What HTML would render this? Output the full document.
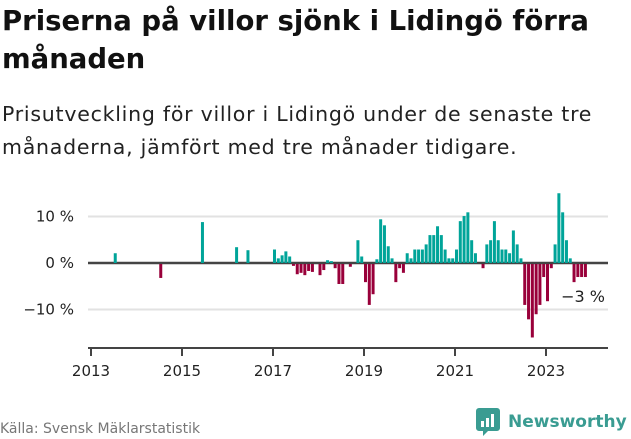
<!DOCTYPE html>
<html><head><meta charset="utf-8"><style>
body{margin:0;width:631px;height:439px;background:#fff;font-family:"DejaVu Sans","Liberation Sans",sans-serif;overflow:hidden;position:relative;color:#111}
#title{position:absolute;left:2px;top:2px;font-size:27.5px;font-weight:bold;line-height:38px;margin:0;width:630px}
#sub{position:absolute;left:2px;top:98px;font-size:20.5px;letter-spacing:0.75px;line-height:33px;color:#222;width:630px}
#src{position:absolute;left:0;top:421px;font-size:14px;color:#777}
#logo{position:absolute;left:476px;top:408px;display:flex;align-items:center}
#logo span{font-size:17px;font-weight:bold;color:#3a9c92;margin-left:8px}
</style></head><body>
<h1 id="title">Priserna på villor sjönk i Lidingö förra månaden</h1>
<div id="sub">Prisutveckling för villor i Lidingö under de senaste tre månaderna, jämfört med tre månader tidigare.</div>
<svg id="chart" width="631" height="439" style="position:absolute;left:0;top:0"></svg>
<div id="src">Källa: Svensk Mäklarstatistik</div>
<div id="logo">
<svg width="24" height="28" viewBox="0 0 24 28"><path d="M3 0h18a3 3 0 0 1 3 3v17a3 3 0 0 1-3 3H12l-5 5v-5H3a3 3 0 0 1-3-3V3a3 3 0 0 1 3-3z" fill="#3a9c92"/><rect x="5" y="13" width="3" height="6" fill="#fff"/><rect x="10" y="10" width="3" height="9" fill="#fff"/><rect x="15" y="6" width="3" height="13" fill="#fff"/></svg>
<span>Newsworthy</span></div>
<script>
const startYear = 2013;
const monthIdx = [6,18,29,38,41,48,49,50,51,52,53,54,55,56,57,58,60,61,62,63,64,65,66,68,70,71,72,73,74,75,76,77,78,79,80,81,82,83,84,85,86,87,88,89,90,91,92,93,94,95,96,97,98,99,100,101,103,104,105,106,107,108,109,110,111,112,113,114,115,116,117,118,119,120,121,122,123,124,125,126,127,128,129,130];
const values = [2.1,-3.0,8.8,3.4,2.75,2.9,1.0,1.65,2.5,1.4,-0.4,-2.2,-1.9,-2.4,-1.5,-1.7,-2.4,-1.3,0.6,0.4,-0.9,-4.3,-4.3,-0.6,4.9,1.4,-3.9,-8.8,-6.5,0.8,9.4,8.1,3.6,1.0,-3.9,-0.9,-1.9,2.1,1.0,2.9,2.9,2.9,4.0,6.0,6.0,7.9,6.0,2.9,1.0,1.0,2.9,9.0,10.1,10.9,4.9,2.1,-0.9,4.0,4.9,9.0,4.9,2.9,2.9,2.1,7.0,4.0,1.0,-8.8,-11.9,-15.8,-10.8,-8.8,-2.8,-8.0,-0.9,4.0,15.0,10.9,4.9,1.0,-3.9,-2.8,-2.8,-2.8];
const yTicks = [10,0,-10];
const yTickLabels = ["10 %","0 %","−10 %"];
const xTicks = [2013,2015,2017,2019,2021,2023];
const lastLabel = "−3 %";
const svg = document.getElementById('chart');
const NS='http://www.w3.org/2000/svg';
const x0=91, pxYear=45.5, yZero=263, pxPct=4.65;
const xm = m => x0 + m*pxYear/12;
const xy = y => x0 + (y-startYear)*pxYear;
const yv = v => yZero - v*pxPct;
function mk(t,a){const e=document.createElementNS(NS,t);for(const k in a)e.setAttribute(k,a[k]);svg.appendChild(e);return e;}
yTicks.forEach((t,i)=>{
  const l=mk('line',{x1:88,x2:608,y1:yv(t),y2:yv(t),stroke:t===0?'#444':'#e2e2e2','stroke-width':t===0?2.5:2});
  
  
  const tx=mk('text',{x:74,y:yv(t)+5,'text-anchor':'end','font-size':15,fill:'#222','font-family':'DejaVu Sans, Liberation Sans, sans-serif'});
  tx.textContent=yTickLabels[i];
  
  
});
values.forEach((v,i)=>{
  const r=mk('rect',{x:xm(monthIdx[i]),width:3,y:v>0?yv(v):yZero+1,height:Math.abs(v)*pxPct,fill:v>0?'#00a499':'#99003a'});
  
  
});
const ax=mk('line',{x1:88,x2:608,y1:348,y2:348,stroke:'#444','stroke-width':2});


xTicks.forEach(t=>{
  const l=mk('line',{x1:xy(t),x2:xy(t),y1:348,y2:356,stroke:'#444','stroke-width':2});
  
  
  const tx=mk('text',{x:xy(t),y:376,'text-anchor':'middle','font-size':15,fill:'#222','font-family':'DejaVu Sans, Liberation Sans, sans-serif'});
  tx.textContent=t;
  
  
});
const lb=mk('text',{x:605,y:302,'text-anchor':'end','font-size':16,fill:'#222','font-family':'DejaVu Sans, Liberation Sans, sans-serif'});
lb.textContent=lastLabel;


</script>
</body></html>
